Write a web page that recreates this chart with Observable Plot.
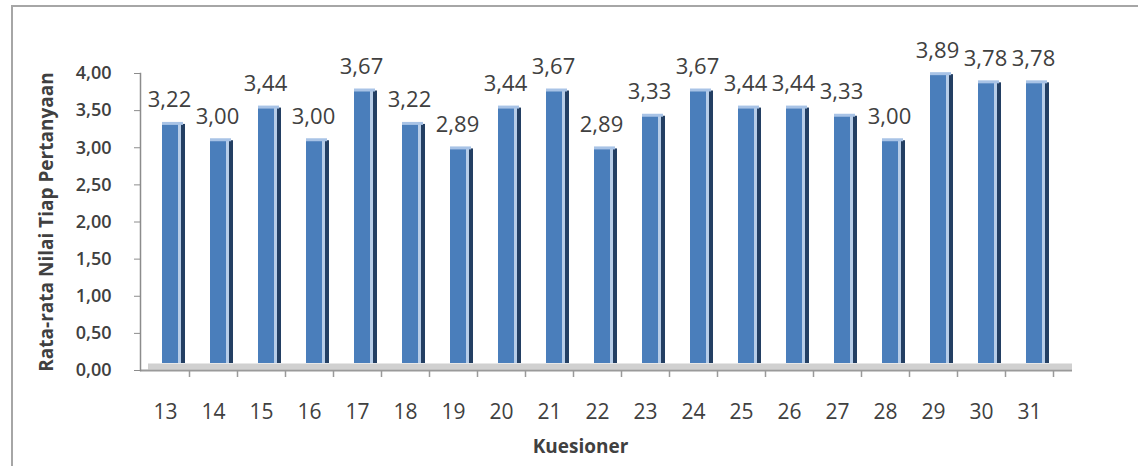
<!DOCTYPE html>
<html><head><meta charset="utf-8">
<script src="https://cdn.jsdelivr.net/npm/d3@7"></script>
<script src="https://cdn.jsdelivr.net/npm/@observablehq/plot@0.6"></script>
<style>
body{margin:0;background:#fff;}
#wrap{position:relative;width:1138px;height:466px;overflow:hidden;}
#border{position:absolute;left:11px;top:5px;width:1140px;height:470px;border-top:2px solid #a6a6a6;border-left:2px solid #a6a6a6;pointer-events:none;box-sizing:border-box;z-index:2;}
#wrap svg{position:absolute;left:0;top:0;}
</style></head><body><div id="wrap"><div id="border"></div></div>
<script>
const categories = ["13","14","15","16","17","18","19","20","21","22","23","24","25","26","27","28","29","30","31"];
const values = [3.22,3.00,3.44,3.00,3.67,3.22,2.89,3.44,3.67,2.89,3.33,3.67,3.44,3.44,3.33,3.00,3.89,3.78,3.78];
const yTicks = [0,0.5,1,1.5,2,2.5,3,3.5,4];
const yTitle = "Rata-rata Nilai Tiap Pertanyaan";
const xTitle = "Kuesioner";

const data = categories.map((k, i) => ({k, v: values[i]}));
const fmt = d => d.toFixed(2).replace(".", ",");

const chart = Plot.plot({
  width: 1138, height: 466,
  marginLeft: 140, marginRight: 84, marginTop: 73, marginBottom: 96,
  style: {fontFamily: "'Open Sans', sans-serif", color: "#404040", background: "transparent"},
  x: {domain: categories, padding: 0},
  y: {domain: [0, 4]},
  marks: [
    Plot.ruleY([0], {stroke: "#d0d0d0", strokeWidth: 6, dy: -4, insetLeft: 8, insetRight: -18}),
    Plot.ruleY([0], {stroke: "#9a9a9a", strokeWidth: 2, insetRight: -18}),
    Plot.frame({anchor: "left", stroke: "#8c8c8c", strokeWidth: 1.5}),
    Plot.ruleX(data, {x: "k", y1: 0, y2: 0, dx: 24, insetBottom: -7, stroke: "#9a9a9a", strokeWidth: 1.5}),
    Plot.axisY({ticks: yTicks, tickFormat: fmt, tickSize: 6, tickPadding: 23, fontSize: 18, fontWeight: 600, stroke: "#8c8c8c", fill: "#404040", label: null}),
    Plot.axisX({tickSize: 0, tickPadding: 34, fontSize: 21, fill: "#404040", label: null}),
    Plot.barY(data, {x: "k", y: "v", fill: "#4a7ebb", insetLeft: 21, insetRight: 11, dy: -7}),
    Plot.barY(data, {x: "k", y: "v", fill: "#b7cde8", insetLeft: 37, insetRight: 8, dy: -7}),
    Plot.barY(data, {x: "k", y: "v", fill: "#233f63", insetLeft: 40, insetRight: 4, dy: -7}),
    Plot.tickY(data, {x: "k", y: "v", stroke: "#a8c3e6", strokeWidth: 3, insetLeft: 21, insetRight: 6, dy: -8}),
    Plot.text(data, {x: "k", y: "v", text: d => fmt(d.v), dy: -31, dx: 4, fontSize: 22, fill: "#404040"}),
    Plot.text([yTitle], {frameAnchor: "left", textAnchor: "middle", rotate: -90, dx: -94, fontSize: 19, fontWeight: "bold", fill: "#404040"}),
    Plot.text([xTitle], {frameAnchor: "bottom", dy: 82, dx: -17, fontSize: 19, fontWeight: "bold", fill: "#404040"})
  ]
});
document.getElementById("wrap").appendChild(chart);
</script>
</body></html>
